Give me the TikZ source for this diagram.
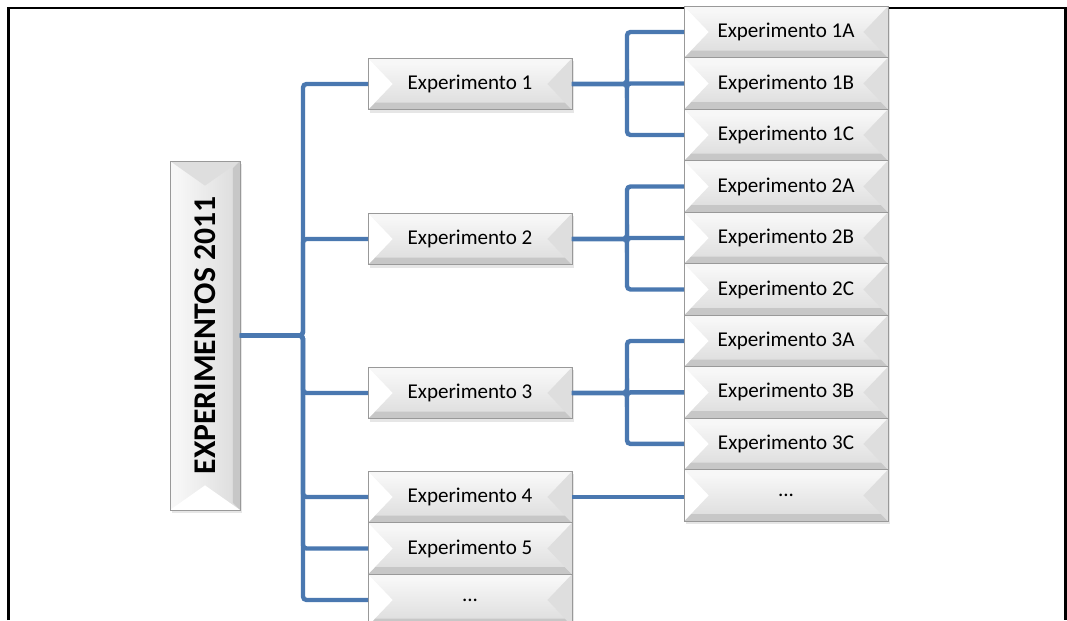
\documentclass[tikz,border=0pt]{standalone}
\usepackage{fontspec}
\setmainfont{Carlito}
\usepackage{tikz}
\usetikzlibrary{positioning, calc, shadows}

\definecolor{linkblue}{RGB}{74,120,176}

% bevel for wide boxes (light left, grey right)
\newcommand{\bevelh}{%
  \fill[white!97!black] (path picture bounding box.north west) -- ([xshift=4pt,yshift=-4pt]path picture bounding box.north west)
    -- ([xshift=-4pt,yshift=-4pt]path picture bounding box.north east) -- (path picture bounding box.north east) -- cycle;
  \fill[black!22] (path picture bounding box.south west) -- ([xshift=4pt,yshift=4pt]path picture bounding box.south west)
    -- ([xshift=-4pt,yshift=4pt]path picture bounding box.south east) -- (path picture bounding box.south east) -- cycle;
  \fill[white] (path picture bounding box.north west) -- ([xshift=14pt]path picture bounding box.west)
    -- (path picture bounding box.south west) -- cycle;
  \fill[black!13] (path picture bounding box.north east) -- ([xshift=-14pt]path picture bounding box.east)
    -- (path picture bounding box.south east) -- cycle;
}

% same bevel turned upright
\newcommand{\bevelv}{%
  \fill[white!97!black] (path picture bounding box.north west) -- ([xshift=4pt,yshift=-4pt]path picture bounding box.north west)
    -- ([xshift=4pt,yshift=4pt]path picture bounding box.south west) -- (path picture bounding box.south west) -- cycle;
  \fill[black!22] (path picture bounding box.north east) -- ([xshift=-4pt,yshift=-4pt]path picture bounding box.north east)
    -- ([xshift=-4pt,yshift=4pt]path picture bounding box.south east) -- (path picture bounding box.south east) -- cycle;
  \fill[white] (path picture bounding box.south west) -- ([yshift=14pt]path picture bounding box.south)
    -- (path picture bounding box.south east) -- cycle;
  \fill[black!13] (path picture bounding box.north west) -- ([yshift=-14pt]path picture bounding box.north)
    -- (path picture bounding box.north east) -- cycle;
}

\begin{document}
\begin{tikzpicture}[
    x=0.02cm, y=-0.02cm,
    experiment/.style={rectangle, draw=black!40, thin, top color=black!2, bottom color=black!14, minimum width=4.08cm, minimum height=1.03cm, inner sep=0pt, outer sep=0pt, font=\fontsize{12}{14}\selectfont, drop shadow={shadow xshift=1pt, shadow yshift=-1.8pt, opacity=0.2}, path picture={\bevelh}},
    subexp/.style={experiment},
    root/.style={rectangle, draw=black!40, thin, left color=black!2, right color=black!14, minimum width=1.4cm, minimum height=6.98cm, inner sep=0pt, outer sep=0pt, font=\fontsize{18}{21}\selectfont\bfseries, drop shadow={shadow xshift=1pt, shadow yshift=-1.8pt, opacity=0.2}, path picture={\bevelv}},
    link/.style={draw=linkblue, line width=2.5pt, rounded corners=2pt}
]
\useasboundingbox (0,0) rectangle (1067,620);

% Page frame
\draw[line width=1.6pt] (8.5,620) |- (1065.5,8) -- (1065.5,620);

% Root
\node[root] (root) at (205,335.5) {\rotatebox{90}{EXPERIMENTOS 2011}};

% Experiments
\node[experiment] (e1) at (470,84) {Experimento 1};
\node[experiment] (e2) at (470,239) {Experimento 2};
\node[experiment] (e3) at (470,393) {Experimento 3};
\node[experiment] (e4) at (470,497) {Experimento 4};
\node[experiment, below=0pt of e4] (e5) {Experimento 5};
\node[experiment, below=0pt of e5] (emore) {...};

% Sub-experiments
\node[subexp] (s1a) at (786,32) {Experimento 1A};
\node[subexp, below=0pt of s1a] (s1b) {Experimento 1B};
\node[subexp, below=0pt of s1b] (s1c) {Experimento 1C};
\node[subexp, below=0pt of s1c] (s2a) {Experimento 2A};
\node[subexp, below=0pt of s2a] (s2b) {Experimento 2B};
\node[subexp, below=0pt of s2b] (s2c) {Experimento 2C};
\node[subexp, below=0pt of s2c] (s3a) {Experimento 3A};
\node[subexp, below=0pt of s3a] (s3b) {Experimento 3B};
\node[subexp, below=0pt of s3b] (s3c) {Experimento 3C};
\node[subexp, below=0pt of s3c] (smore) {...};

% Root to experiments
\foreach \n in {e1,e2,e3,e4,e5,emore}
    \draw[link] (root.east) -- ++(63,0) |- (\n.west);

% Experiments to sub-experiments
\foreach \e/\s in {e1/s1a,e1/s1b,e1/s1c,e2/s2a,e2/s2b,e2/s2c,e3/s3a,e3/s3b,e3/s3c}
    \draw[link] (\e.east) -- ++(55,0) |- (\s.west);
\draw[link] (e4.east) -- (e4.east -| smore.west);

\end{tikzpicture}
\end{document}
